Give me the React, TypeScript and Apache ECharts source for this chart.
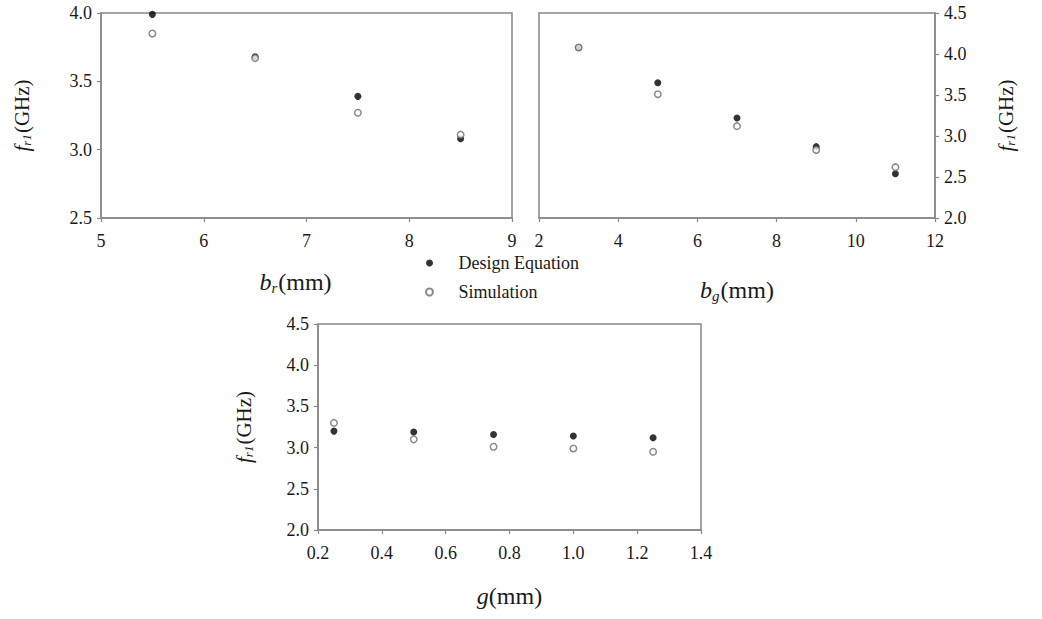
import React, { useEffect, useRef } from "react";
import * as echarts from "echarts";

const brX = [5.5, 6.5, 7.5, 8.5];
const brDesign = [3.99, 3.68, 3.39, 3.08];
const brSim = [3.85, 3.67, 3.27, 3.11];

const bgX = [3, 5, 7, 9, 11];
const bgDesign = [4.08, 3.65, 3.22, 2.87, 2.54];
const bgSim = [4.08, 3.51, 3.12, 2.83, 2.62];

const gX = [0.25, 0.5, 0.75, 1.0, 1.25];
const gDesign = [3.2, 3.19, 3.16, 3.14, 3.12];
const gSim = [3.3, 3.1, 3.01, 2.99, 2.95];

const seriesNames = ["Design Equation", "Simulation"];

const FONT = "Liberation Serif";
const AXIS_COLOR = "#8a8784";
const TEXT_COLOR = "#1a1a1a";

const pairs = (xs: number[], ys: number[]) => xs.map((x, i) => [x, ys[i]]);

export default function App() {
  const ref = useRef<HTMLDivElement>(null);
  useEffect(() => {
    if (!ref.current) return;
    const chart = echarts.init(ref.current, undefined, { renderer: "svg" });

    const labelStyle = { color: TEXT_COLOR, fontFamily: FONT, fontSize: 18 };

    const axisCommon = {
      axisLine: { show: true, lineStyle: { color: AXIS_COLOR, width: 1.5 } },
      axisTick: { show: true, inside: false, length: 4, lineStyle: { color: AXIS_COLOR, width: 1.2 } },
      splitLine: { show: false },
    };

    const nameRich = (size: number) => ({
      i: { fontFamily: FONT, fontStyle: "italic", fontSize: size, color: TEXT_COLOR },
      sub: { fontFamily: FONT, fontStyle: "italic", fontSize: Math.round(size * 0.62), color: TEXT_COLOR, padding: [Math.round(size * 0.45), 1, 0, 0] },
      n: { fontFamily: FONT, fontSize: size, color: TEXT_COLOR },
    });

    const xAxisDef = (grid: number, min: number, max: number, interval: number, name: string, gap: number, size: number, dec: number, shift: number) => ({
      type: "value",
      gridIndex: grid,
      min,
      max,
      interval,
      name,
      nameLocation: "middle",
      nameGap: gap,
      nameTextStyle: { rich: nameRich(size), padding: shift > 0 ? [0, shift, 0, 0] : [0, 0, 0, 0] },
      ...axisCommon,
      axisLabel: { ...labelStyle, margin: 14, formatter: (v: number) => v.toFixed(dec) },
    });

    const yAxisDef = (grid: number, min: number, max: number, position: string, gap: number) => ({
      type: "value",
      gridIndex: grid,
      min,
      max,
      interval: 0.5,
      position,
      name: "{i|f}{sub|r1}{n|(GHz)}",
      nameLocation: "middle",
      nameGap: gap,
      nameRotate: 90,
      nameTextStyle: { rich: nameRich(21) },
      ...axisCommon,
      axisLabel: { ...labelStyle, margin: 9, formatter: (v: number) => v.toFixed(1) },
    });

    const designStyle = { color: "#000000" };
    const simStyle = { color: "#ffffff", borderColor: "#6e6e6e", borderWidth: 1.5 };

    const mk = (name: string, idx: number, data: number[][], sim: boolean) => ({
      type: "scatter",
      name,
      xAxisIndex: idx,
      yAxisIndex: idx,
      symbol: "circle",
      symbolSize: sim ? 6.5 : 7,
      itemStyle: sim ? simStyle : designStyle,
      data,
      z: sim ? 3 : 2,
    });

    const gridCommon = { show: true, borderColor: AXIS_COLOR, borderWidth: 1.5, backgroundColor: "transparent", containLabel: false };

    chart.setOption({
      animation: false,
      backgroundColor: "#ffffff",
      textStyle: { fontFamily: FONT },
      grid: [
        { ...gridCommon, left: 101, top: 13, width: 411, height: 205 },
        { ...gridCommon, left: 539, top: 13, width: 396, height: 205 },
        { ...gridCommon, left: 318, top: 324, width: 383, height: 206 },
      ],
      xAxis: [
        xAxisDef(0, 5, 9, 1, "{i|b}{sub|r}{n|(mm)}", 51, 24, 0, 22),
        xAxisDef(1, 2, 12, 2, "{i|b}{sub|g}{n|(mm)}", 59, 24, 0, 0),
        xAxisDef(2, 0.2, 1.4, 0.2, "{i|g}{n|(mm)}", 54, 24, 1, 0),
      ],
      yAxis: [
        yAxisDef(0, 2.5, 4.0, "left", 68),
        yAxisDef(1, 2.0, 4.5, "right", 60),
        yAxisDef(2, 2.0, 4.5, "left", 63),
      ],
      legend: {
        show: true,
        data: seriesNames,
        orient: "vertical",
        left: 420,
        top: 249,
        itemWidth: 48,
        itemHeight: 7,
        itemGap: 11,
        textStyle: { fontFamily: FONT, fontSize: 18, color: TEXT_COLOR },
        selectedMode: false,
      },
      series: [
        mk(seriesNames[0], 0, pairs(brX, brDesign), false),
        mk(seriesNames[1], 0, pairs(brX, brSim), true),
        mk(seriesNames[0], 1, pairs(bgX, bgDesign), false),
        mk(seriesNames[1], 1, pairs(bgX, bgSim), true),
        mk(seriesNames[0], 2, pairs(gX, gDesign), false),
        mk(seriesNames[1], 2, pairs(gX, gSim), true),
      ],
    });
    return () => chart.dispose();
  }, []);
  return <div ref={ref} style={{ position: "fixed", left: 0, top: 0, width: 1042, height: 619 }} />;
}
